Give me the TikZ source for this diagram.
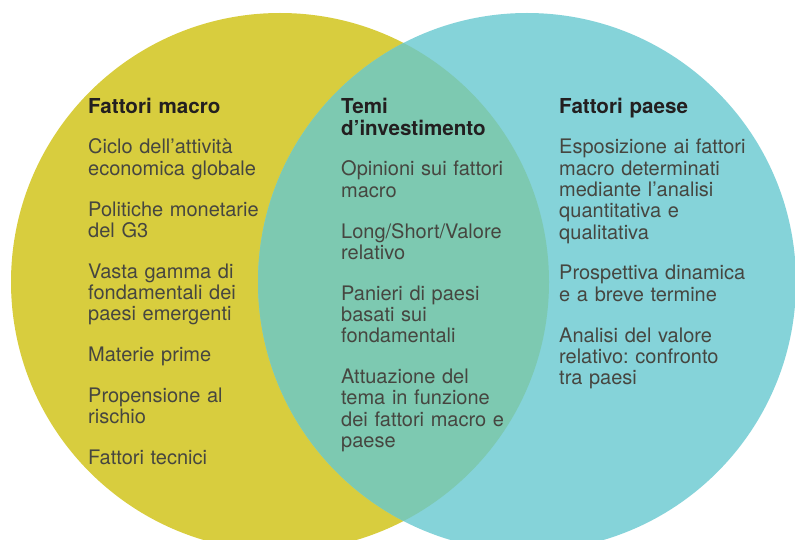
\documentclass[tikz,border=0pt]{standalone}
\usepackage{fontspec}
\setmainfont{TeX Gyre Heros}
\usepackage{xcolor}
\definecolor{macroyellow}{RGB}{216,205,62}
\definecolor{paeseteal}{RGB}{133,211,217}
\definecolor{temigreen}{RGB}{125,201,177}
\definecolor{titletext}{RGB}{35,31,32}
\definecolor{bodytext}{RGB}{70,70,64}
\newcommand{\parskipvenn}{\\[19.5pt]}

\begin{document}
\frenchspacing
\begin{tikzpicture}[x=1pt, y=1pt,
    vtitle/.style={anchor=base west, inner sep=0pt, text=titletext,
      font=\bfseries\fontsize{20.6}{21.3}\selectfont, text width=#1, align=left},
    vbody/.style={anchor=base west, inner sep=0pt, text=bodytext,
      font=\fontsize{20}{21.3}\selectfont, text width=#1, align=left}]
    \useasboundingbox (0,0) rectangle (795,539);
    
    \begin{scope}
      \clip (0,0) rectangle (795,539);
      \fill[macroyellow] (280,257) circle[radius=269];
      \fill[paeseteal] (527,257) circle[radius=269];
      \clip (280,257) circle[radius=269];
      \fill[temigreen] (527,257) circle[radius=269];
    \end{scope}
    
    % left circle
    \node[vtitle=190] (titleMacro) at (88,425) {Fattori macro};
    \node[vbody=190] (bodyMacro) at (88,385) {Ciclo dell’attività\\economica globale\parskipvenn
      Politiche monetarie\\del G3\parskipvenn
      Vasta gamma di\\fondamentali dei\\paesi emergenti\parskipvenn
      Materie prime\parskipvenn
      Propensione al\\rischio\parskipvenn
      Fattori tecnici};
    
    % overlap
    \node[vtitle=190] (titleTemi) at (341,425) {Temi\\d’investimento};
    \node[vbody=190] (bodyTemi) at (341,363) {Opinioni sui fattori\\macro\parskipvenn
      Long/Short/Valore\\relativo\parskipvenn
      Panieri di paesi\\basati sui\\fondamentali\parskipvenn
      Attuazione del\\tema in funzione\\dei fattori macro e\\paese};
    
    % right circle
    \node[vtitle=210] (titlePaese) at (559,425) {Fattori paese};
    \node[vbody=210] (bodyPaese) at (559,385) {Esposizione ai fattori\\macro determinati\\mediante l’analisi\\quantitativa e\\qualitativa\parskipvenn
      Prospettiva dinamica\\e a breve termine\parskipvenn
      Analisi del valore\\relativo: confronto\\tra paesi};
\end{tikzpicture}
\end{document}
